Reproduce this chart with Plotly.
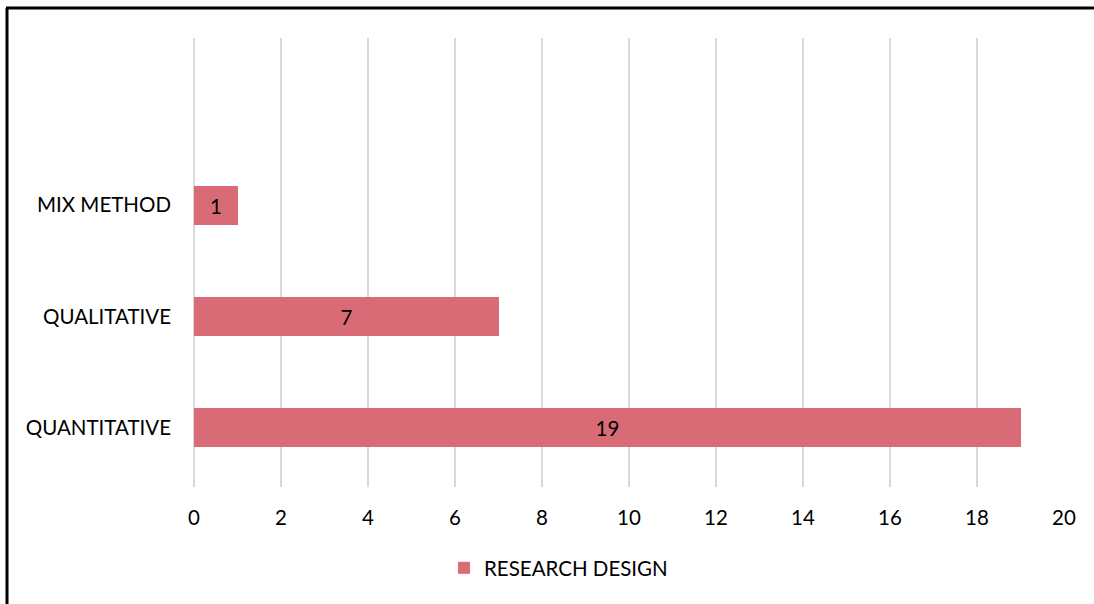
import plotly.graph_objects as go

categories = ["QUANTITATIVE", "QUALITATIVE", "MIX METHOD"]
values = [19, 7, 1]
series_name = "RESEARCH DESIGN"
x_ticks = [0, 2, 4, 6, 8, 10, 12, 14, 16, 18, 20]

W, H = 1094, 604
L, R, T, B = 194, 30, 38, 117
pw, ph = W - L - R, H - T - B

def px_x(p):
    return (p - L) / pw

def px_y(p):
    return (H - B - p) / ph

FONT = "Lato, 'Open Sans', sans-serif"
COLOR = "#d96b77"
FS = 20.5

fig = go.Figure()
fig.add_trace(go.Bar(
    y=list(range(len(categories))), x=values, orientation="h",
    name=series_name, marker=dict(color=COLOR, line=dict(width=0)),
    width=0.35, text=[str(v) for v in values], textposition="inside",
    insidetextanchor="middle", textfont=dict(color="black", size=FS, family=FONT),
    showlegend=True,
))

fig.update_layout(
    width=W, height=H, margin=dict(l=L, r=R, t=T, b=B),
    paper_bgcolor="white", plot_bgcolor="white",
    font=dict(family=FONT, size=FS, color="black"),
    xaxis=dict(range=[0, 20], tickvals=x_ticks, showgrid=True, gridcolor="#d9d9d9",
               gridwidth=2, zeroline=True, zerolinecolor="#d9d9d9", zerolinewidth=2,
               showline=False, ticks="", ticklabelstandoff=16, fixedrange=True),
    yaxis=dict(range=[-0.53, 3.5], tickvals=list(range(len(categories))),
               ticktext=categories, showgrid=False, zeroline=False, showline=False,
               ticks="", ticklabelstandoff=22),
    showlegend=True,
    legend=dict(orientation="h", x=px_x(444), xanchor="left", y=px_y(568), yanchor="middle",
                font=dict(size=FS, family=FONT), itemwidth=30),
    bargap=0,
)

# outer border (top and left edges visible)
fig.add_shape(type="line", xref="paper", yref="paper",
              x0=px_x(7), x1=px_x(7), y0=px_y(620), y1=px_y(8),
              line=dict(color="black", width=3))
fig.add_shape(type="line", xref="paper", yref="paper",
              x0=px_x(6), x1=px_x(1110), y0=px_y(8), y1=px_y(8),
              line=dict(color="black", width=3))

fig.write_html("out.html")
